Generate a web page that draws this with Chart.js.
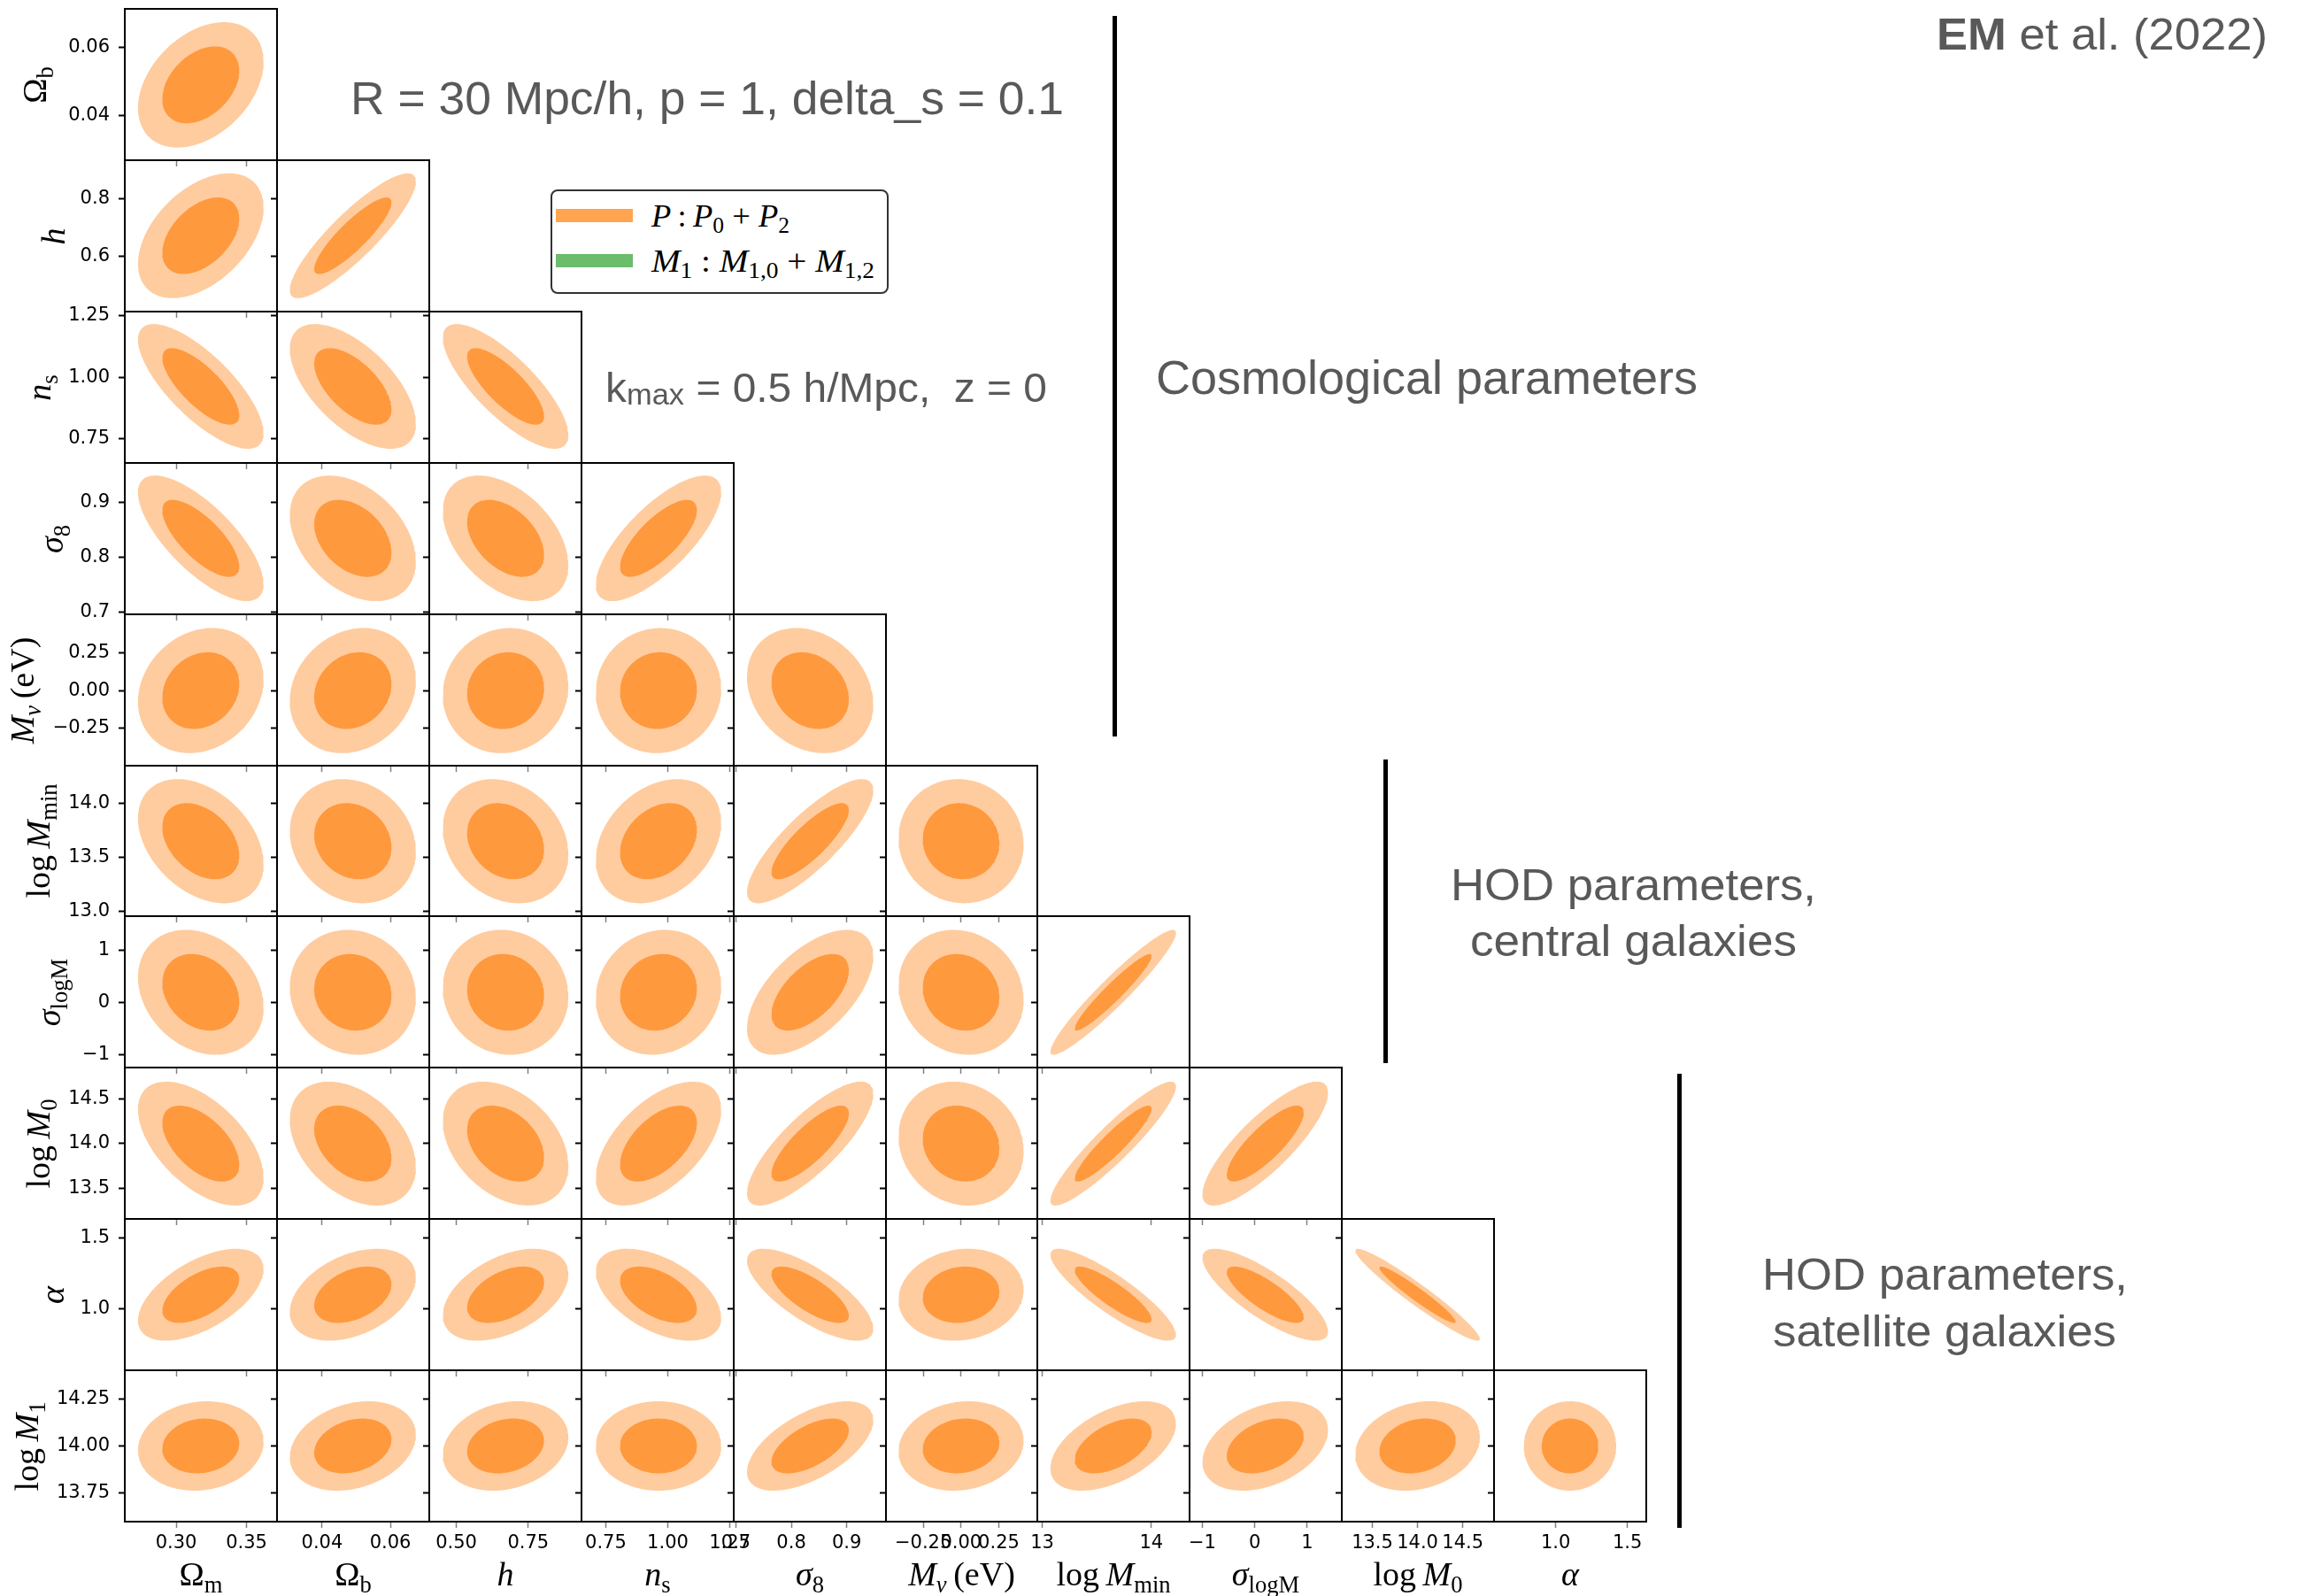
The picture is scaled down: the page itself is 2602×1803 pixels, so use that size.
<!DOCTYPE html>
<html>
<head>
<meta charset="utf-8">
<title>Fisher forecast corner plot</title>
<script src="https://cdn.jsdelivr.net/npm/chart.js@4.4.1/dist/chart.umd.min.js"></script>
<style>
  html, body { margin: 0; padding: 0; background: #fff; }
  body { position: relative; width: 2602px; height: 1803px; overflow: hidden; }
  canvas.panel { position: absolute; }
  .txt { position: absolute; white-space: nowrap; }
  .math { font-family: "Liberation Serif", "DejaVu Serif", serif; color: #000; }
  .math sub { font-size: 0.7em; line-height: 0; vertical-align: -0.3em; }
  .note { font-family: "Liberation Sans", Arial, sans-serif; color: #595959; }
  .note sub { font-size: 0.72em; line-height: 0; vertical-align: -0.08em; }
  .vbar { position: absolute; background: #000; width: 5px; }
  #legend { position: absolute; left: 622px; top: 214px; width: 378px; height: 114px; border: 2px solid #333; border-radius: 8px; }
  .swatch { position: absolute; height: 15px; width: 87px; }
</style>
</head>
<body>
<div id="legend"></div>
<script>
// parameters: Omega_m, Omega_b, h, n_s, sigma_8, M_nu, logMmin, sigma_logM, logM0, alpha, logM1
var paramNames = ['Om', 'Ob', 'h', 'ns', 's8', 'Mnu', 'logMmin', 'sigma_logM', 'logM0', 'alpha', 'logM1'];
var fiducial = [0.3175, 0.049, 0.6711, 0.9624, 0.834, 0.0, 13.65, 0.2, 14.0, 1.1, 14.0];
var sigma = [0.0180, 0.00745, 0.0880, 0.1020, 0.0460, 0.167, 0.232, 0.483, 0.278, 0.130, 0.0955];
var axisMin = [0.2635, 0.0268, 0.406, 0.652, 0.696, -0.497, 12.955, -1.243, 13.162, 0.570, 13.599];
var axisMax = [0.3717, 0.0714, 0.935, 1.266, 0.971, 0.505, 14.350, 1.660, 14.846, 1.632, 14.401];

// correlation of param i with params 0..i-1
var corr = [
  [],
  [0.37],
  [0.45, 0.87],
  [-0.75, -0.60, -0.78],
  [-0.73, -0.37, -0.43, 0.74],
  [0.18, 0.17, 0.07, 0.03, -0.22],
  [-0.37, -0.16, -0.21, 0.30, 0.82, -0.05],
  [-0.24, -0.08, -0.07, 0.10, 0.58, -0.12, 0.95],
  [-0.55, -0.38, -0.36, 0.55, 0.80, -0.12, 0.92, 0.82],
  [0.56, 0.38, 0.45, -0.50, -0.74, 0.11, -0.87, -0.80, -0.96],
  [0.10, 0.25, 0.20, 0.00, 0.58, 0.12, 0.50, 0.36, 0.20, 0.00]
];

// 68% and 95% 2D contours (sqrt of delta chi^2)
var contourLevels = [1.52, 2.48];

var xTicks = [[0.30, 0.35], [0.04, 0.06], [0.50, 0.75], [0.75, 1.00, 1.25], [0.7, 0.8, 0.9],
  [-0.25, 0.0, 0.25], [13, 14], [-1, 0, 1], [13.5, 14.0, 14.5], [1.0, 1.5], []];
var xTickLabels = [['0.30', '0.35'], ['0.04', '0.06'], ['0.50', '0.75'], ['0.75', '1.00', '1.25'], ['0.7', '0.8', '0.9'],
  ['\u22120.25', '0.00', '0.25'], ['13', '14'], ['\u22121', '0', '1'], ['13.5', '14.0', '14.5'], ['1.0', '1.5'], []];
var yTicks = [[], [0.04, 0.06], [0.6, 0.8], [0.75, 1.00, 1.25], [0.7, 0.8, 0.9], [-0.25, 0.0, 0.25],
  [13.0, 13.5, 14.0], [-1, 0, 1], [13.5, 14.0, 14.5], [1.0, 1.5], [13.75, 14.00, 14.25]];
var yTickLabels = [[], ['0.04', '0.06'], ['0.6', '0.8'], ['0.75', '1.00', '1.25'], ['0.7', '0.8', '0.9'],
  ['\u22120.25', '0.00', '0.25'], ['13.0', '13.5', '14.0'], ['\u22121', '0', '1'], ['13.5', '14.0', '14.5'],
  ['1.0', '1.5'], ['13.75', '14.00', '14.25']];

var axisTitles = ['\u03a9<sub>m</sub>', '\u03a9<sub>b</sub>', '<i>h</i>', '<i>n</i><sub>s</sub>', '<i>\u03c3</i><sub>8</sub>',
  '<i>M</i><sub><i>\u03bd</i></sub>&thinsp;(eV)', 'log&thinsp;<i>M</i><sub>min</sub>', '<i>\u03c3</i><sub>logM</sub>',
  'log&thinsp;<i>M</i><sub>0</sub>', '<i>\u03b1</i>', 'log&thinsp;<i>M</i><sub>1</sub>'];

// ---- layout ----
var innerColor = '#ff993e';
var outerColor = '#ffcc9f';
var ML = 150, MR = 60, MT = 30, MB = 110;
var colEdges = [], rowEdges = [];
for (var e = 0; e <= 10; e++) {
  colEdges.push(Math.round(141 + e * 171.9));
  rowEdges.push(Math.round(10 + e * 170.9));
}
var yTitleBaseline = [0, 52, 73, 57, 71, 38, 56, 68, 56, 72, 43];
var xTitleBaseline = 1791;
var titleSize = 38;

Chart.defaults.font.family = "'DejaVu Sans', sans-serif";
Chart.defaults.color = '#000';

var framePlugin = {
  id: 'frame',
  afterDraw: function (chart) {
    var a = chart.chartArea, ctx = chart.ctx;
    ctx.save();
    ctx.strokeStyle = '#000';
    ctx.lineWidth = 2;
    ctx.strokeRect(a.left, a.top, a.right - a.left, a.bottom - a.top);
    ctx.restore();
  }
};

function contour(i, j, level) {
  var pts = [];
  var r = corr[i][j], n = 140;
  for (var t = 0; t <= n; t++) {
    var a = 2 * Math.PI * t / n;
    pts.push({
      x: fiducial[j] + level * sigma[j] * Math.cos(a),
      y: fiducial[i] + level * sigma[i] * (r * Math.cos(a) + Math.sqrt(1 - r * r) * Math.sin(a))
    });
  }
  return pts;
}

function makePanel(pi, pj, r, c) {
  var pw = colEdges[c + 1] - colEdges[c];
  var ph = rowEdges[r + 1] - rowEdges[r];
  var cv = document.createElement('canvas');
  cv.className = 'panel';
  cv.width = ML + pw + MR;
  cv.height = MT + ph + MB;
  cv.style.left = (colEdges[c] - ML) + 'px';
  cv.style.top = (rowEdges[r] - MT) + 'px';
  document.body.appendChild(cv);

  var showX = (r === 9);
  var showY = (c === 0);

  new Chart(cv, {
    type: 'scatter',
    data: {
      datasets: [
        { data: contour(pi, pj, contourLevels[0]), showLine: true, fill: 'shape', backgroundColor: innerColor,
          borderColor: 'rgba(0,0,0,0)', borderWidth: 0, pointRadius: 0, tension: 0 },
        { data: contour(pi, pj, contourLevels[1]), showLine: true, fill: 'shape', backgroundColor: outerColor,
          borderColor: 'rgba(0,0,0,0)', borderWidth: 0, pointRadius: 0, tension: 0 }
      ]
    },
    options: {
      responsive: false,
      animation: false,
      events: [],
      layout: { padding: { left: 0, top: MT, right: MR, bottom: 0 } },
      plugins: { legend: { display: false }, tooltip: { enabled: false } },
      scales: {
        x: {
          type: 'linear', position: 'bottom', bounds: 'data',
          min: axisMin[pj], max: axisMax[pj],
          afterBuildTicks: function (s) { s.ticks = xTicks[pj].map(function (v) { return { value: v }; }); },
          afterFit: function (s) { s.height = MB; },
          ticks: {
            display: showX, autoSkip: false, maxRotation: 0, minRotation: 0, padding: 5,
            color: '#000', font: { size: 21 },
            callback: function (v, idx) { return xTickLabels[pj][idx]; }
          },
          grid: { display: true, drawOnChartArea: false, drawTicks: true, tickLength: 7, tickColor: '#808080', tickWidth: 1.5 },
          border: { display: false }
        },
        y: {
          type: 'linear', position: 'left', bounds: 'data',
          min: axisMin[pi], max: axisMax[pi],
          afterBuildTicks: function (s) { s.ticks = yTicks[pi].map(function (v) { return { value: v }; }); },
          afterFit: function (s) { s.width = ML; },
          ticks: {
            display: showY, autoSkip: false, padding: 10,
            color: '#000', font: { size: 21 },
            callback: function (v, idx) { return yTickLabels[pi][idx]; }
          },
          grid: { display: true, drawOnChartArea: false, drawTicks: true, tickLength: 7, tickColor: '#000', tickWidth: 2 },
          border: { display: false }
        }
      }
    },
    plugins: [framePlugin]
  });
}

for (var r = 0; r < 10; r++) {
  for (var c = 0; c <= r; c++) {
    makePanel(r + 1, c, r, c);
  }
}

// ---- text helpers ----
function addText(html, cls, size, left, baseline, ascent, width) {
  var d = document.createElement('div');
  d.className = 'txt ' + cls;
  d.style.fontSize = size + 'px';
  d.style.lineHeight = size + 'px';
  d.style.left = left + 'px';
  d.style.top = (baseline - ascent * size) + 'px';
  d.innerHTML = html;
  document.body.appendChild(d);
  if (width) {
    var w = d.getBoundingClientRect().width;
    d.style.transformOrigin = '0 0';
    d.style.transform = 'scaleX(' + (width / w) + ')';
  }
  return d;
}
function addCentered(html, cls, size, center, baseline, ascent, width) {
  return addText(html, cls, size, center - width / 2, baseline, ascent, width);
}

// x axis titles
for (var j = 0; j < 10; j++) {
  var cx = (colEdges[j] + colEdges[j + 1]) / 2;
  var d = document.createElement('div');
  d.className = 'txt math';
  d.style.fontSize = titleSize + 'px';
  d.style.lineHeight = titleSize + 'px';
  d.style.width = '300px';
  d.style.textAlign = 'center';
  d.style.left = (cx - 150) + 'px';
  d.style.top = (xTitleBaseline - 0.8375 * titleSize) + 'px';
  d.innerHTML = axisTitles[j];
  document.body.appendChild(d);
}
// y axis titles (rotated)
for (var i = 1; i <= 10; i++) {
  var cy = (rowEdges[i - 1] + rowEdges[i]) / 2;
  var bx = yTitleBaseline[i] - 0.3375 * titleSize;
  var t = document.createElement('div');
  t.className = 'txt math';
  t.style.fontSize = titleSize + 'px';
  t.style.lineHeight = titleSize + 'px';
  t.style.width = '300px';
  t.style.height = titleSize + 'px';
  t.style.textAlign = 'center';
  t.style.left = (bx - 150) + 'px';
  t.style.top = (cy - titleSize / 2) + 'px';
  t.style.transform = 'rotate(-90deg)';
  t.innerHTML = axisTitles[i];
  document.body.appendChild(t);
}

// legend
var sw1 = document.createElement('div');
sw1.className = 'swatch'; sw1.style.left = '628px'; sw1.style.top = '236px'; sw1.style.background = '#ffa551';
document.body.appendChild(sw1);
var sw2 = document.createElement('div');
sw2.className = 'swatch'; sw2.style.left = '628px'; sw2.style.top = '287px'; sw2.style.background = '#6bbc6b';
document.body.appendChild(sw2);
addText('<i>P</i>&thinsp;:&thinsp;<i>P</i><sub>0</sub> + <i>P</i><sub>2</sub>', 'math', 35, 736, 256, 0.8375, 156);
addText('<i>M</i><sub>1</sub> : <i>M</i><sub>1,0</sub> + <i>M</i><sub>1,2</sub>', 'math', 35, 736, 307, 0.8375, 252);

// annotations
addText('R = 30 Mpc/h, p = 1, delta_s = 0.1', 'note', 51, 396, 129, 0.8465, 806);
addText('k<sub>max</sub> = 0.5 h/Mpc,&nbsp; z = 0', 'note', 47, 684, 454, 0.8465, 499);
addText('Cosmological parameters', 'note', 54, 1306, 445, 0.8465, 612);
addText('<b>EM</b> et al. (2022)', 'note', 50, 2188, 56, 0.8465, 374);
addCentered('HOD parameters,', 'note', 50, 1845, 1017, 0.8465, 413);
addCentered('central galaxies', 'note', 50, 1845, 1080, 0.8465, 369);
addCentered('HOD parameters,', 'note', 50, 2197, 1457, 0.8465, 413);
addCentered('satellite galaxies', 'note', 50, 2197, 1521, 0.8465, 388);

// group bars
var bars = [[1257, 18, 832], [1563, 858, 1201], [1895, 1213, 1726]];
bars.forEach(function (b) {
  var v = document.createElement('div');
  v.className = 'vbar';
  v.style.left = b[0] + 'px';
  v.style.top = b[1] + 'px';
  v.style.height = (b[2] - b[1]) + 'px';
  document.body.appendChild(v);
});
</script>
</body>
</html>
